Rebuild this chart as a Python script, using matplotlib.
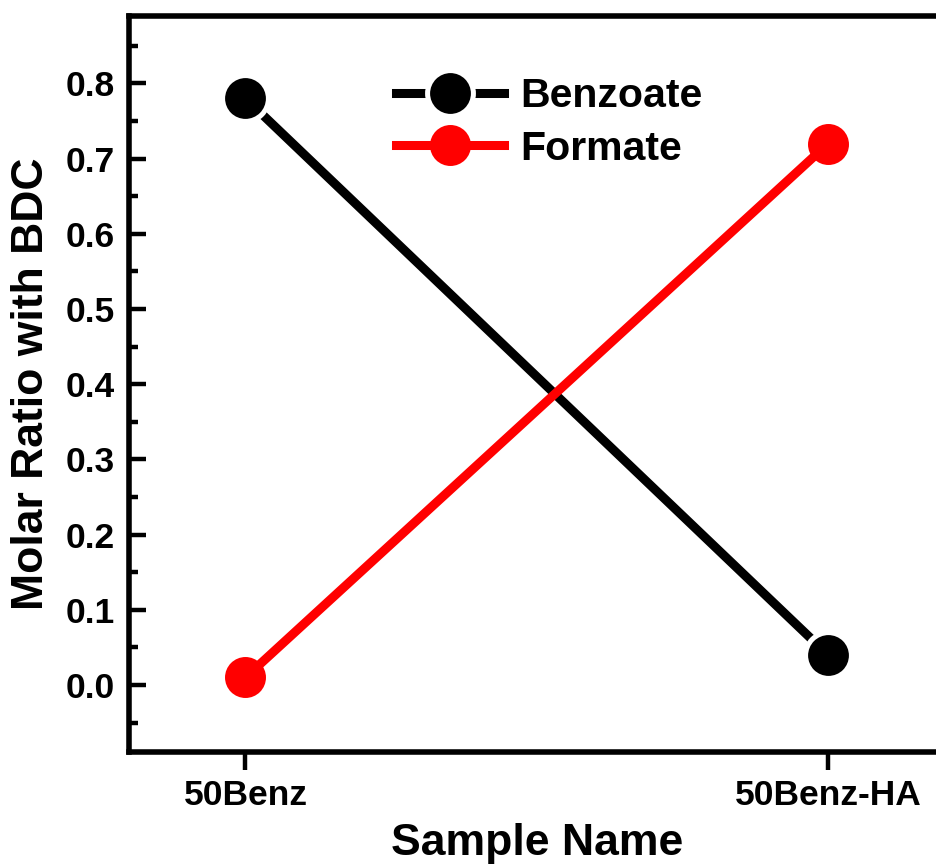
import matplotlib
matplotlib.use("Agg")
import matplotlib.pyplot as plt
from matplotlib.ticker import MultipleLocator

plt.rcParams['font.family'] = ['Liberation Sans', 'DejaVu Sans']
plt.rcParams['font.weight'] = 'bold'

samples = ["50Benz", "50Benz-HA"]
x = [1, 2]
benzoate = [0.78, 0.04]
formate = [0.01, 0.72]

fig = plt.figure(figsize=(9.36, 8.67), dpi=100)
ax = fig.add_axes([0.1378, 0.1321, 0.8714, 0.85])

# black line with a white ring round the symbols (gap to line)
ax.plot(x, benzoate, '-o', color='black', lw=6.5, ms=33, mfc='black',
        mec='white', mew=3.6, label="Benzoate", zorder=3)
ax.plot(x, formate, '-o', color='red', lw=6.5, ms=29.5, mfc='red',
        mec='red', mew=0, label="Formate", zorder=4)

ax.set_xlim(0.8, 2.2)
ax.set_ylim(-0.0898, 0.8903)
ax.set_xticks(x)
ax.set_xticklabels(samples)
ax.yaxis.set_minor_locator(MultipleLocator(0.05))
ax.set_yticks([0.0, 0.1, 0.2, 0.3, 0.4, 0.5, 0.6, 0.7, 0.8])

for s in ax.spines.values():
    s.set_linewidth(4)
ax.tick_params(axis='y', which='major', direction='in', length=12, width=3.2,
               labelsize=25.5, pad=10)
ax.tick_params(axis='y', which='minor', direction='in', length=6.5, width=3.2)
ax.tick_params(axis='x', which='major', direction='out', length=13, width=3.2,
               labelsize=25.5, pad=6)
ax.tick_params(axis='x', which='minor', bottom=False)
ax.tick_params(top=False, right=False)

ax.set_xlabel("Sample Name", fontsize=32, fontweight='bold', labelpad=8)
ax.set_ylabel("Molar Ratio with BDC", fontsize=32, fontweight='bold', labelpad=10)

ax.legend(loc='upper left', bbox_to_anchor=(0.327, 0.916), frameon=False,
          numpoints=1, handlelength=2.64, handletextpad=0.4,
          labelspacing=0.35, borderpad=0, borderaxespad=0,
          prop={'weight': 'bold', 'size': 29.5})

fig.savefig("out.png", dpi=100)
